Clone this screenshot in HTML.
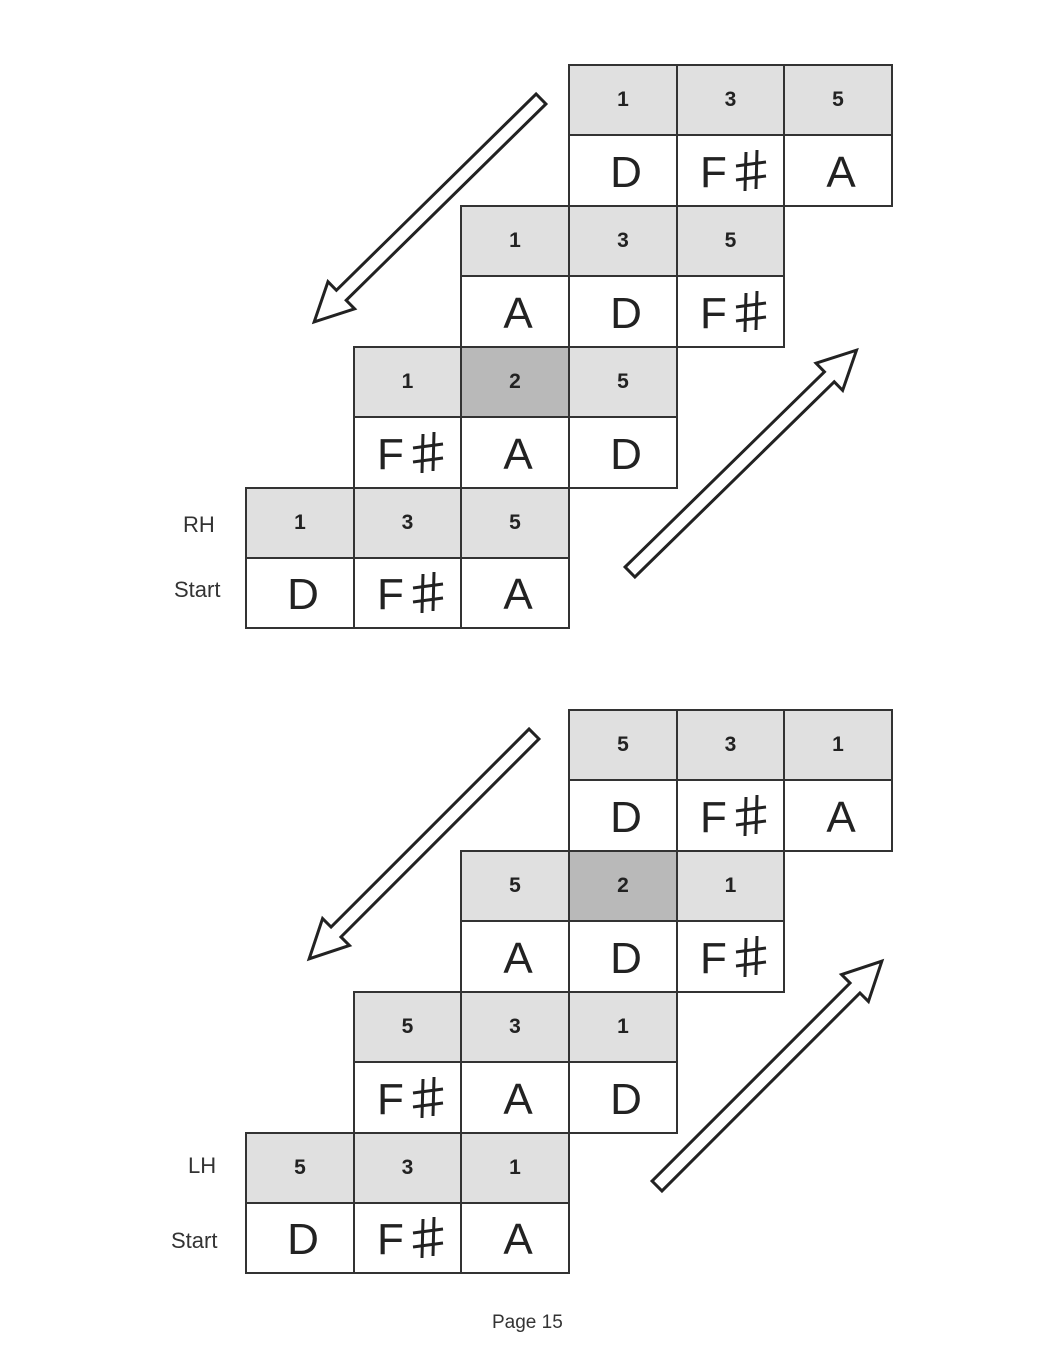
<!DOCTYPE html>
<html><head><meta charset="utf-8"><style>
body{margin:0;width:1054px;height:1364px;background:#fff;position:relative;font-family:"Liberation Sans",Arial,sans-serif;overflow:hidden}
.c{position:absolute;box-sizing:border-box;border:2px solid #333;display:flex;align-items:center;justify-content:center;color:#222}
.h{background:#e0e0e0;font-weight:bold;font-size:21px}
.d{background:#b9b9b9;font-weight:bold;font-size:21px}
.n{background:#fff;font-size:44px;padding-top:4px}
.n svg{position:static;margin-left:8px;margin-top:-4px}
.l{position:absolute;font-size:22px;color:#333}
#a{position:absolute;left:0;top:0}
</style></head><body>
<svg id="a" width="1054" height="1364">
<g fill="#fff" stroke="#222" stroke-width="3" stroke-linejoin="miter">
<polygon points="0,-7 280,-7 280,-19 318,0 280,19 280,7 0,7" transform="translate(541,99) rotate(135.5)"/>
<polygon points="0,-7 279,-7 279,-19 317,0 279,19 279,7 0,7" transform="translate(630,572) rotate(-44.4)"/>
<polygon points="0,-7 280,-7 280,-19 318,0 280,19 280,7 0,7" transform="translate(534,734) rotate(135)"/>
<polygon points="0,-7 280,-7 280,-19 318,0 280,19 280,7 0,7" transform="translate(657,1186) rotate(-45)"/>
</g></svg>
<div class="l" style="left:183px;top:512px">RH</div>
<div class="l" style="left:174px;top:577px">Start</div>
<div class="l" style="left:188px;top:1153px">LH</div>
<div class="l" style="left:171px;top:1228px">Start</div>
<div class="l" style="left:492px;top:1312px;font-size:19px">Page 15</div>
<script>
var X=[245,353,460,568,676,783,891];
var SH='<svg width="32" height="42" viewBox="0 0 32 42"><g stroke="#222" stroke-width="3" fill="none"><line x1="11" y1="2" x2="10" y2="41"/><line x1="22" y1="0" x2="21" y2="39"/><line x1="1" y1="16" x2="31" y2="12"/><line x1="1" y1="30" x2="31" y2="26"/></g></svg>';
function row(y1,y2,col,hs,dark){
 for(var i=0;i<3;i++){
  var c=col+i,x=X[c],w=X[c+1]-x+2;
  var h=document.createElement('div');h.className='c '+(dark===i?'d':'h');
  h.style.cssText='left:'+x+'px;top:'+y1+'px;width:'+w+'px;height:'+(y2-y1+2)+'px';h.textContent=hs[i];document.body.appendChild(h);
 }
}
function nrow(y1,y2,col,ns){
 for(var i=0;i<3;i++){
  var c=col+i,x=X[c],w=X[c+1]-x+2;
  var h=document.createElement('div');h.className='c n';
  h.style.cssText='left:'+(x)+'px;top:'+y1+'px;width:'+w+'px;height:'+(y2-y1+2)+'px;padding-left:6px';
  h.innerHTML=ns[i]=='F#'?'F'+SH:ns[i];document.body.appendChild(h);
 }
}
row(64,134,3,['1','3','5']);nrow(134,205,3,['D','F#','A']);
row(205,275,2,['1','3','5']);nrow(275,346,2,['A','D','F#']);
row(346,416,1,['1','2','5'],1);nrow(416,487,1,['F#','A','D']);
row(487,557,0,['1','3','5']);nrow(557,627,0,['D','F#','A']);
row(709,779,3,['5','3','1']);nrow(779,850,3,['D','F#','A']);
row(850,920,2,['5','2','1'],1);nrow(920,991,2,['A','D','F#']);
row(991,1061,1,['5','3','1']);nrow(1061,1132,1,['F#','A','D']);
row(1132,1202,0,['5','3','1']);nrow(1202,1272,0,['D','F#','A']);
</script>
</body></html>
